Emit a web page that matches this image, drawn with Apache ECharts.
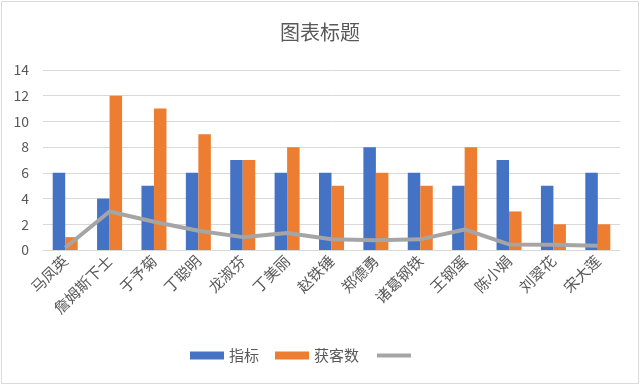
<!DOCTYPE html>
<html><head><meta charset="utf-8">
<script src="https://cdn.jsdelivr.net/npm/echarts@6/dist/echarts.min.js"></script>
<style>html,body{margin:0;padding:0;background:#fff}#c{width:640px;height:385px}</style>
</head><body><div id="c"></div>
<script>
const categories = ['马凤英','詹姆斯下士','于予菊','丁聪明','龙淑芬','丁美丽','赵铁锤','郑德勇','诸葛钢铁','王钢蛋','陈小娟','刘翠花','宋大莲'];
const seriesIndicator = [6,4,5,6,7,6,6,8,6,5,7,5,6];
const seriesCustomers = [1,12,11,9,7,8,5,6,5,8,3,2,2];
const seriesLine = [0.17,3,2.2,1.5,1,1.33,0.83,0.75,0.83,1.6,0.43,0.4,0.33];
const yTicks = [0,2,4,6,8,10,12,14];
const names = ['指标','获客数',' '];

const font = '"Noto Sans CJK SC", "Noto Sans", sans-serif';
const chart = echarts.init(document.getElementById('c'));
chart.setOption({
  animation:false,
  textStyle:{fontFamily:font},
  title:{text:'图表标题',left:'center',top:17,textStyle:{fontSize:20,fontWeight:'normal',color:'#595959',fontFamily:font}},
  graphic:[{type:'rect',shape:{x:1.5,y:1.5,width:637,height:382},style:{fill:'none',stroke:'#D9D9D9',lineWidth:1},silent:true}],
  legend:{bottom:17,left:185,itemWidth:34,itemHeight:8,itemGap:16,textStyle:{fontSize:15,color:'#595959',fontFamily:font},
    data:[{name:names[0],icon:'rect'},{name:names[1],icon:'rect'},
      {name:names[2],itemStyle:{color:'rgba(0,0,0,0)',borderColor:'rgba(0,0,0,0)',borderWidth:0},lineStyle:{color:'#A5A5A5',width:4}}]},
  grid:{left:43,right:20,top:70,bottom:135},
  xAxis:{type:'category',data:categories,
    axisLine:{lineStyle:{color:'#D9D9D9'}},axisTick:{show:false},
    axisLabel:{rotate:45,fontSize:15,color:'#595959',interval:0,margin:8,fontFamily:font}},
  yAxis:{type:'value',min:0,max:14,interval:2,
    axisLine:{show:false},axisTick:{show:false},
    splitLine:{lineStyle:{color:'#D9D9D9'}},
    axisLabel:{fontSize:14,color:'#595959',margin:14,fontFamily:font,
      formatter:v=>yTicks.includes(v)?String(v):''}},
  series:[
    {name:names[0],type:'bar',data:seriesIndicator,barWidth:12.5,barGap:'0%',itemStyle:{color:'#4472C4'}},
    {name:names[1],type:'bar',data:seriesCustomers,barWidth:12.5,barGap:'0%',itemStyle:{color:'#ED7D31'}},
    {name:names[2],type:'line',data:seriesLine,symbol:'none',lineStyle:{color:'#A5A5A5',width:4},itemStyle:{color:'#A5A5A5'}}
  ]
});
</script></body></html>
